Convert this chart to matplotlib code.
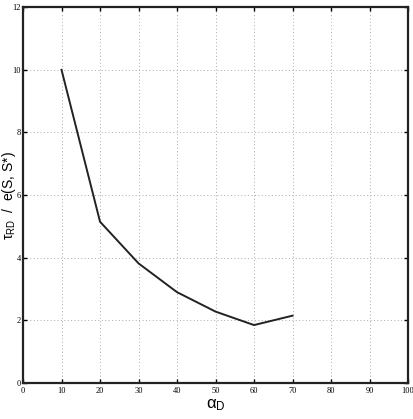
import matplotlib
matplotlib.use('Agg')
import matplotlib.pyplot as plt

alpha_d = [10, 20, 30, 40, 50, 60, 70]
ratio = [10.0, 5.15, 3.82, 2.90, 2.28, 1.85, 2.15]

x_ticks = list(range(0, 101, 10))
y_ticks = list(range(0, 13, 2))

plt.rcParams['mathtext.fontset'] = 'custom'
plt.rcParams['mathtext.rm'] = 'Liberation Sans'
plt.rcParams['mathtext.it'] = 'Liberation Sans'

fig = plt.figure(figsize=(4.14, 4.19), dpi=100)
ax = fig.add_axes([0.0556, 0.0859, 0.93, 0.897])

ax.plot(alpha_d, ratio, color='#222222', linewidth=1.4)

ax.set_xlim(0, 100)
ax.set_ylim(0, 12)
ax.set_xticks(x_ticks)
ax.set_yticks(y_ticks)
ax.grid(True, linestyle=(0, (1, 2.5)), color='#aaaaaa', linewidth=0.7)
ax.tick_params(direction='in', top=True, right=True, length=3, width=1,
               labelsize=6, pad=3)
ax.tick_params(axis='y', pad=1.5)
for lab in ax.get_xticklabels() + ax.get_yticklabels():
    lab.set_fontfamily('Liberation Serif')
for sp in ax.spines.values():
    sp.set_linewidth(1.6)
    sp.set_color('#222222')

ax.set_xlabel(r'$\alpha_D$', fontsize=12, fontfamily='Liberation Sans')
ax.xaxis.set_label_coords(0.5, -0.038)
ax.set_ylabel(r'$\tau_{RD}$  /  e(S, S*)', fontsize=10,
              fontfamily='Liberation Sans')
ax.yaxis.set_label_coords(-0.014, 0.5)

fig.savefig('out.png', dpi=100)
